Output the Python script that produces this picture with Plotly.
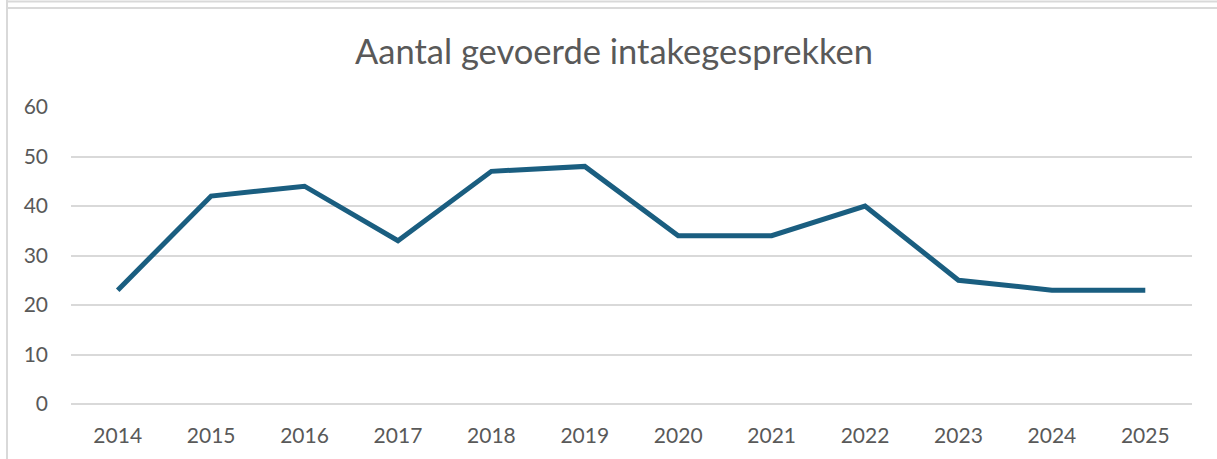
import plotly.graph_objects as go

years = ["2014", "2015", "2016", "2017", "2018", "2019", "2020", "2021", "2022", "2023", "2024", "2025"]
counts = [23, 42, 44, 33, 47, 48, 34, 34, 40, 25, 23, 23]
y_ticks = [0, 10, 20, 30, 40, 50, 60]
title_text = "Aantal gevoerde intakegesprekken"

W, H = 1217, 459
L, R, T, B = 71, 25, 107, 55
pw, ph = W - L - R, H - T - B

def px(x):
    return (x - L) / pw

def py(y):
    return (H - B - y) / ph

fig = go.Figure()
fig.add_trace(go.Scatter(
    x=years, y=counts, mode="lines",
    line=dict(color="#1A5E80", width=5),
    hoverinfo="x+y", showlegend=False,
))

border = "#D9D9D9"
shapes = [
    dict(type="line", xref="paper", yref="paper", x0=px(6), x1=px(1217), y0=py(1.5), y1=py(1.5),
         line=dict(color=border, width=2)),
    dict(type="line", xref="paper", yref="paper", x0=px(7), x1=px(1217), y0=py(8), y1=py(8),
         line=dict(color=border, width=2)),
    dict(type="line", xref="paper", yref="paper", x0=px(7), x1=px(7), y0=py(0), y1=py(459),
         line=dict(color=border, width=2)),
]

fig.update_layout(
    width=W, height=H,
    margin=dict(l=L, r=R, t=T, b=B),
    paper_bgcolor="white", plot_bgcolor="white",
    title=dict(text=title_text, x=614 / W, xanchor="center", y=1 - 52 / H, yanchor="middle",
               font=dict(family="Lato", size=34.5, color="#595959")),
    font=dict(family="Lato", color="#595959"),
    xaxis=dict(type="category", showgrid=False, showline=False, zeroline=False,
               ticks="", tickfont=dict(size=21, color="#595959"), fixedrange=True,
               ticklabelstandoff=17, range=[-0.5, len(years) - 0.5]),
    yaxis=dict(range=[0, 60], tickvals=y_ticks, showgrid=True, gridcolor="#D9D9D9", gridwidth=1.5,
               zeroline=True, zerolinecolor="#D9D9D9", zerolinewidth=1.5,
               showline=False, ticks="", ticklabelstandoff=22,
               tickfont=dict(size=21, color="#595959"), fixedrange=True),
    shapes=shapes,
)

fig.write_html("out.html", config={"displayModeBar": False},
               post_script="document.body.style.margin='0';")
